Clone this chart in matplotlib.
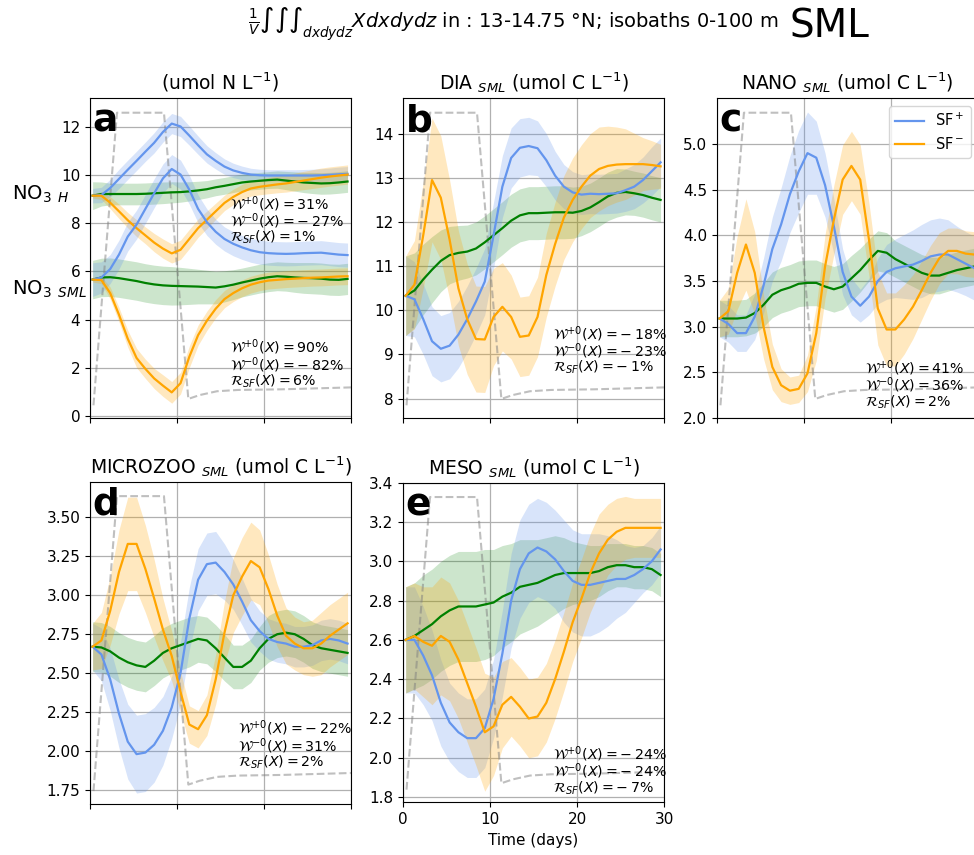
import numpy as np
import matplotlib
matplotlib.use("Agg")
import matplotlib.pyplot as plt
from matplotlib.transforms import blended_transform_factory

# time axis (days), one sample per day
days = np.linspace(0.3, 29.6, 30)

# dashed forcing envelope, y in axes fraction
forcing_t = [0.4, 3.1, 8.5, 11.3, 12.6, 14.6, 17.0, 22.0, 30.0]
forcing_y = [0.04, 0.955, 0.955, 0.06, 0.072, 0.084, 0.088, 0.09, 0.096]

# ---- panel a : NO3 (H and SML) ----
no3h_plus = [9.15, 9.18, 9.47, 9.85, 10.23, 10.6, 10.98, 11.35, 11.8, 12.15, 12.03, 11.65, 11.25, 10.87, 10.6,
             10.36, 10.2, 10.1, 10.03, 10.0, 9.99, 9.99, 9.99, 9.99, 9.99, 9.99, 10.0, 10.02, 10.04, 10.06]
no3h_minus = [9.15, 9.15, 8.86, 8.5, 8.13, 7.8, 7.5, 7.2, 6.95, 6.75, 6.9, 7.35, 7.8, 8.15, 8.5,
              8.85, 9.1, 9.3, 9.45, 9.52, 9.57, 9.62, 9.66, 9.72, 9.78, 9.84, 9.9, 9.95, 9.99, 10.03]
no3h_ref = [9.15, 9.22, 9.22, 9.22, 9.22, 9.22, 9.23, 9.25, 9.27, 9.29, 9.3, 9.33, 9.37, 9.42, 9.5,
            9.56, 9.63, 9.7, 9.74, 9.77, 9.8, 9.82, 9.78, 9.74, 9.7, 9.68, 9.66, 9.67, 9.7, 9.74]
no3h_plus_sd = [0.3, 0.32, 0.36, 0.4, 0.4, 0.4, 0.4, 0.42, 0.42, 0.42, 0.42, 0.4, 0.38, 0.36, 0.34,
                0.32, 0.3, 0.28, 0.26, 0.25, 0.24, 0.24, 0.24, 0.24, 0.25, 0.26, 0.27, 0.28, 0.3, 0.3]
no3h_minus_sd = [0.1, 0.15, 0.25, 0.3, 0.32, 0.35, 0.35, 0.38, 0.4, 0.4, 0.4, 0.4, 0.38, 0.36, 0.34,
                 0.32, 0.32, 0.32, 0.32, 0.33, 0.34, 0.35, 0.36, 0.37, 0.38, 0.39, 0.4, 0.4, 0.4, 0.4]
no3h_ref_sd = [0.58, 0.5, 0.45, 0.45, 0.45, 0.45, 0.45, 0.45, 0.45, 0.44, 0.42, 0.4, 0.38, 0.36, 0.35,
               0.35, 0.35, 0.35, 0.35, 0.35, 0.35, 0.36, 0.38, 0.4, 0.42, 0.44, 0.45, 0.45, 0.45, 0.45]

no3s_plus = [5.66, 5.75, 6.1, 6.7, 7.45, 7.95, 8.6, 9.25, 9.87, 10.26, 10.03, 9.4, 8.6, 8.05, 7.65,
             7.35, 7.15, 7.0, 6.88, 6.8, 6.76, 6.74, 6.73, 6.74, 6.76, 6.77, 6.78, 6.74, 6.7, 6.68]
no3s_minus = [5.66, 5.64, 5.1, 4.2, 3.2, 2.4, 1.95, 1.55, 1.25, 0.97, 1.35, 2.45, 3.35, 3.95, 4.45,
              4.85, 5.1, 5.3, 5.45, 5.55, 5.62, 5.65, 5.68, 5.7, 5.72, 5.74, 5.75, 5.77, 5.79, 5.8]
no3s_ref = [5.66, 5.75, 5.76, 5.72, 5.66, 5.6, 5.52, 5.46, 5.42, 5.4, 5.39, 5.38, 5.37, 5.35, 5.33,
            5.38, 5.45, 5.54, 5.62, 5.7, 5.76, 5.8, 5.78, 5.75, 5.73, 5.72, 5.7, 5.66, 5.65, 5.69]
no3s_plus_sd = [0.7, 0.65, 0.6, 0.6, 0.6, 0.6, 0.6, 0.6, 0.6, 0.6, 0.6, 0.6, 0.58, 0.55, 0.52,
                0.5, 0.5, 0.5, 0.5, 0.5, 0.5, 0.5, 0.5, 0.5, 0.5, 0.5, 0.5, 0.5, 0.5, 0.5]
no3s_minus_sd = [0.1, 0.15, 0.25, 0.3, 0.35, 0.4, 0.4, 0.42, 0.45, 0.45, 0.45, 0.45, 0.42, 0.4, 0.38,
                 0.36, 0.35, 0.35, 0.35, 0.35, 0.35, 0.35, 0.35, 0.35, 0.35, 0.35, 0.35, 0.35, 0.35, 0.35]
no3s_ref_sd = [0.8, 0.8, 0.8, 0.8, 0.8, 0.8, 0.8, 0.8, 0.8, 0.8, 0.78, 0.75, 0.72, 0.7, 0.68,
               0.65, 0.62, 0.6, 0.6, 0.6, 0.6, 0.6, 0.6, 0.62, 0.64, 0.65, 0.65, 0.65, 0.65, 0.65]

# ---- panel b : DIA ----
dia_plus = [10.33, 10.25, 9.8, 9.3, 9.13, 9.2, 9.45, 9.8, 10.2, 10.65, 11.7, 12.8, 13.45, 13.68, 13.72,
            13.67, 13.4, 13.05, 12.8, 12.67, 12.62, 12.64, 12.63, 12.64, 12.65, 12.72, 12.8, 12.95, 13.15, 13.35]
dia_minus = [10.33, 10.58, 11.7, 12.95, 12.55, 11.6, 10.5, 9.8, 9.35, 9.34, 9.85, 10.08, 9.85, 9.4, 9.43,
             9.85, 10.8, 11.5, 12.1, 12.5, 12.8, 13.05, 13.2, 13.27, 13.3, 13.31, 13.31, 13.31, 13.29, 13.26]
dia_ref = [10.33, 10.45, 10.7, 10.92, 11.12, 11.25, 11.3, 11.33, 11.4, 11.54, 11.7, 11.86, 12.03, 12.15, 12.2,
           12.2, 12.21, 12.22, 12.22, 12.21, 12.25, 12.33, 12.45, 12.58, 12.66, 12.68, 12.65, 12.61, 12.55, 12.5]
dia_plus_sd = [0.9, 0.85, 0.8, 0.78, 0.75, 0.75, 0.75, 0.75, 0.75, 0.75, 0.75, 0.7, 0.68, 0.66, 0.65,
               0.62, 0.6, 0.55, 0.5, 0.47, 0.45, 0.45, 0.45, 0.45, 0.45, 0.48, 0.5, 0.52, 0.55, 0.55]
dia_minus_sd = [0.9, 1.0, 1.2, 1.4, 1.4, 1.35, 1.3, 1.25, 1.2, 1.2, 1.1, 1.0, 0.95, 0.9, 0.9,
                0.9, 0.95, 0.95, 0.95, 0.95, 0.95, 0.95, 0.95, 0.9, 0.85, 0.8, 0.7, 0.6, 0.55, 0.5]
dia_ref_sd = [0.9, 0.85, 0.8, 0.75, 0.7, 0.65, 0.62, 0.6, 0.6, 0.6, 0.6, 0.6, 0.6, 0.6, 0.6,
              0.6, 0.6, 0.6, 0.6, 0.58, 0.56, 0.55, 0.55, 0.55, 0.55, 0.52, 0.5, 0.5, 0.5, 0.5]

# ---- panel c : NANO ----
nano_plus = [3.09, 3.03, 2.93, 2.93, 3.11, 3.45, 3.85, 4.12, 4.45, 4.7, 4.9, 4.85, 4.55, 4.1, 3.6,
             3.33, 3.23, 3.33, 3.5, 3.6, 3.64, 3.66, 3.68, 3.72, 3.77, 3.79, 3.79, 3.74, 3.69, 3.64]
nano_minus = [3.09, 3.17, 3.59, 3.9, 3.59, 3.0, 2.56, 2.36, 2.3, 2.32, 2.49, 2.93, 3.66, 4.17, 4.61,
              4.76, 4.61, 3.95, 3.2, 2.97, 2.97, 3.08, 3.22, 3.4, 3.59, 3.75, 3.83, 3.83, 3.8, 3.79]
nano_ref = [3.09, 3.09, 3.09, 3.1, 3.15, 3.24, 3.35, 3.4, 3.43, 3.47, 3.48, 3.48, 3.44, 3.41, 3.44,
            3.53, 3.62, 3.73, 3.83, 3.81, 3.74, 3.69, 3.64, 3.59, 3.56, 3.56, 3.59, 3.62, 3.64, 3.66]
nano_plus_sd = [0.2, 0.2, 0.2, 0.2, 0.25, 0.3, 0.35, 0.4, 0.42, 0.45, 0.45, 0.4, 0.35, 0.3, 0.25,
                0.2, 0.18, 0.2, 0.25, 0.3, 0.32, 0.35, 0.38, 0.4, 0.4, 0.4, 0.38, 0.36, 0.35, 0.35]
nano_minus_sd = [0.2, 0.25, 0.4, 0.5, 0.45, 0.35, 0.25, 0.18, 0.15, 0.15, 0.2, 0.3, 0.35, 0.38, 0.38,
                 0.38, 0.38, 0.4, 0.4, 0.4, 0.4, 0.38, 0.35, 0.32, 0.3, 0.28, 0.25, 0.25, 0.25, 0.25]
nano_ref_sd = [0.2, 0.2, 0.2, 0.2, 0.22, 0.24, 0.25, 0.25, 0.25, 0.25, 0.25, 0.25, 0.25, 0.25, 0.25,
               0.25, 0.24, 0.23, 0.22, 0.22, 0.2, 0.2, 0.2, 0.2, 0.2, 0.2, 0.2, 0.2, 0.2, 0.2]

# ---- panel d : MICROZOO ----
micro_plus = [2.67, 2.62, 2.46, 2.24, 2.06, 1.98, 1.99, 2.04, 2.13, 2.28, 2.5, 2.85, 3.1, 3.2, 3.21,
              3.15, 3.07, 2.96, 2.84, 2.77, 2.72, 2.7, 2.69, 2.67, 2.67, 2.68, 2.71, 2.72, 2.71, 2.69]
micro_minus = [2.67, 2.71, 2.9, 3.15, 3.33, 3.33, 3.17, 2.98, 2.78, 2.61, 2.38, 2.17, 2.14, 2.23, 2.46,
               2.76, 3.0, 3.12, 3.22, 3.18, 3.04, 2.87, 2.74, 2.69, 2.66, 2.66, 2.69, 2.74, 2.78, 2.82]
micro_ref = [2.67, 2.665, 2.64, 2.6, 2.57, 2.55, 2.54, 2.58, 2.63, 2.66, 2.68, 2.7, 2.72, 2.71, 2.66,
             2.6, 2.54, 2.54, 2.58, 2.66, 2.72, 2.75, 2.76, 2.75, 2.72, 2.68, 2.66, 2.65, 2.64, 2.63]
micro_plus_sd = [0.15, 0.17, 0.2, 0.22, 0.24, 0.25, 0.25, 0.24, 0.22, 0.2, 0.2, 0.2, 0.2, 0.2, 0.2,
                 0.18, 0.16, 0.15, 0.14, 0.13, 0.13, 0.13, 0.13, 0.13, 0.13, 0.13, 0.13, 0.13, 0.13, 0.13]
micro_minus_sd = [0.15, 0.18, 0.22, 0.27, 0.3, 0.3, 0.28, 0.25, 0.2, 0.16, 0.13, 0.12, 0.12, 0.13, 0.16,
                  0.2, 0.24, 0.25, 0.25, 0.24, 0.22, 0.2, 0.18, 0.17, 0.17, 0.18, 0.2, 0.2, 0.2, 0.2]
micro_ref_sd = [0.16, 0.16, 0.16, 0.16, 0.16, 0.16, 0.16, 0.16, 0.16, 0.16, 0.16, 0.16, 0.15, 0.15, 0.15,
                0.15, 0.14, 0.14, 0.14, 0.14, 0.15, 0.15, 0.15, 0.15, 0.15, 0.15, 0.15, 0.15, 0.15, 0.15]

# ---- panel e : MESO ----
meso_plus = [2.6, 2.6, 2.52, 2.42, 2.28, 2.18, 2.13, 2.1, 2.1, 2.15, 2.3, 2.53, 2.8, 2.96, 3.04,
             3.07, 3.05, 3.01, 2.95, 2.9, 2.88, 2.88, 2.89, 2.9, 2.91, 2.91, 2.93, 2.96, 3.0, 3.06]
meso_minus = [2.6, 2.62, 2.59, 2.57, 2.62, 2.59, 2.5, 2.38, 2.26, 2.13, 2.16, 2.27, 2.31, 2.26, 2.2,
              2.21, 2.28, 2.4, 2.54, 2.69, 2.81, 2.94, 3.04, 3.11, 3.15, 3.17, 3.17, 3.17, 3.17, 3.17]
meso_ref = [2.6, 2.62, 2.65, 2.68, 2.72, 2.75, 2.77, 2.77, 2.77, 2.78, 2.79, 2.82, 2.84, 2.87, 2.88,
            2.89, 2.91, 2.93, 2.94, 2.94, 2.94, 2.94, 2.95, 2.97, 2.98, 2.98, 2.97, 2.97, 2.96, 2.93]
meso_plus_sd = [0.27, 0.27, 0.25, 0.23, 0.22, 0.2, 0.2, 0.2, 0.2, 0.2, 0.2, 0.22, 0.24, 0.25, 0.25,
                0.25, 0.25, 0.25, 0.26, 0.26, 0.26, 0.26, 0.25, 0.23, 0.2, 0.17, 0.14, 0.12, 0.12, 0.12]
meso_minus_sd = [0.27, 0.27, 0.28, 0.3, 0.3, 0.3, 0.3, 0.3, 0.3, 0.3, 0.25, 0.22, 0.2, 0.2, 0.2,
                 0.2, 0.2, 0.2, 0.2, 0.2, 0.2, 0.2, 0.2, 0.18, 0.17, 0.16, 0.15, 0.15, 0.15, 0.15]
meso_ref_sd = [0.27, 0.27, 0.28, 0.28, 0.28, 0.28, 0.28, 0.28, 0.28, 0.28, 0.27, 0.26, 0.25, 0.24, 0.23,
               0.22, 0.21, 0.2, 0.18, 0.16, 0.15, 0.14, 0.13, 0.12, 0.11, 0.11, 0.11, 0.11, 0.11, 0.11]

# stats text (W+0, W-0, R_SF) in percent
stats_a_h = [31, -27, 1]
stats_a_s = [90, -82, 6]
stats_b = [-18, -23, -1]
stats_c = [41, 36, 2]
stats_d = [-22, 31, 2]
stats_e = [-24, -24, -7]

C_PLUS = 'cornflowerblue'
C_MINUS = 'orange'
C_REF = 'green'

plt.rcParams['xtick.labelsize'] = 11
plt.rcParams['ytick.labelsize'] = 11

fig = plt.figure(figsize=(9.74, 8.55), dpi=100)

W = 0.268
H_ = 0.374
pos = {
    'a': [0.0924, 0.511, W, H_],
    'b': [0.4138, 0.511, W, H_],
    'c': [0.7361, 0.511, W, H_],
    'd': [0.0924, 0.0597, W, H_ + 0.003],
    'e': [0.4138, 0.0615, W, H_],
}


def pc(v):
    return f"{v}\\%" if v >= 0 else f"-\\:{abs(v)}\\%"


def put_stats(ax, x, ymid, s):
    txt = (f"$\\mathcal{{W}}^{{+0}}(X) = {pc(s[0])}$\n"
           f"$\\mathcal{{W}}^{{-0}}(X) = {pc(s[1])}$\n"
           f"$\\mathcal{{R}}_{{SF}}(X) = {pc(s[2])}$")
    ax.text(x, ymid, txt, transform=ax.transAxes, fontsize=10.2,
            va='center', ha='left', linespacing=0.85)


def draw_series(ax, mean, sd, color, label=None, falpha=0.25):
    mean = np.array(mean)
    sd = np.array(sd)
    ax.fill_between(days, mean - sd, mean + sd, color=color, alpha=falpha, lw=0)
    ax.plot(days, mean, color=color, lw=1.6, label=label)


def setup(key, title, ylim, yticks, letter):
    ax = fig.add_axes(pos[key])
    ax.set_xlim(0, 30)
    ax.set_ylim(*ylim)
    ax.set_xticks([0, 10, 20, 30])
    ax.set_yticks(yticks)
    ax.grid(True, color='#b0b0b0', lw=0.9)
    ax.set_axisbelow(True)
    ax.set_title(title, fontsize=13.5)
    trans = blended_transform_factory(ax.transData, ax.transAxes)
    ax.plot(forcing_t, forcing_y, ls='--', color='grey', alpha=0.5, lw=1.5, transform=trans)
    ax.text(0.01, 0.985, letter, transform=ax.transAxes, fontsize=27,
            fontweight='bold', ha='left', va='top')
    return ax


# panel a
ax = setup('a', "(umol N L$^{-1}$)", (-0.1, 13.2), [0, 2, 4, 6, 8, 10, 12], 'a')
draw_series(ax, no3h_ref, no3h_ref_sd, C_REF, falpha=0.2)
draw_series(ax, no3h_plus, no3h_plus_sd, C_PLUS)
draw_series(ax, no3h_minus, no3h_minus_sd, C_MINUS)
draw_series(ax, no3s_ref, no3s_ref_sd, C_REF, falpha=0.2)
draw_series(ax, no3s_plus, no3s_plus_sd, C_PLUS)
draw_series(ax, no3s_minus, no3s_minus_sd, C_MINUS)
lab_tr = blended_transform_factory(ax.transAxes, ax.transData)
ax.text(-0.3, 9.0, "NO$_3$ $_{H}$", transform=lab_tr, fontsize=14, va='baseline', ha='left')
ax.text(-0.3, 5.03, "NO$_3$ $_{SML}$", transform=lab_tr, fontsize=14, va='baseline', ha='left')
put_stats(ax, 0.536, 0.619, stats_a_h)
put_stats(ax, 0.536, 0.169, stats_a_s)
ax.set_xticklabels([])

# panel b
ax = setup('b', "DIA $_{SML}$ (umol C L$^{-1}$)", (7.56, 14.8), [8, 9, 10, 11, 12, 13, 14], 'b')
draw_series(ax, dia_ref, dia_ref_sd, C_REF, falpha=0.2)
draw_series(ax, dia_plus, dia_plus_sd, C_PLUS)
draw_series(ax, dia_minus, dia_minus_sd, C_MINUS)
put_stats(ax, 0.575, 0.212, stats_b)
ax.set_xticklabels([])

# panel c
ax = setup('c', "NANO $_{SML}$ (umol C L$^{-1}$)", (2.0, 5.5), [2.0, 2.5, 3.0, 3.5, 4.0, 4.5, 5.0], 'c')
draw_series(ax, nano_ref, nano_ref_sd, C_REF, falpha=0.2)
draw_series(ax, nano_plus, nano_plus_sd, C_PLUS, label='SF$^+$')
draw_series(ax, nano_minus, nano_minus_sd, C_MINUS, label='SF$^-$')
put_stats(ax, 0.567, 0.105, stats_c)
ax.set_xticklabels([])
ax.set_yticklabels(['2.0', '2.5', '3.0', '3.5', '4.0', '4.5', '5.0'])
ax.legend(loc='upper right', fontsize=10.5)

# panel d
ax = setup('d', "MICROZOO $_{SML}$ (umol C L$^{-1}$)", (1.66, 3.73),
           [1.75, 2.0, 2.25, 2.5, 2.75, 3.0, 3.25, 3.5], 'd')
draw_series(ax, micro_ref, micro_ref_sd, C_REF, falpha=0.2)
draw_series(ax, micro_plus, micro_plus_sd, C_PLUS)
draw_series(ax, micro_minus, micro_minus_sd, C_MINUS)
put_stats(ax, 0.567, 0.183, stats_d)
ax.set_xticklabels([])
ax.set_yticklabels(['1.75', '2.00', '2.25', '2.50', '2.75', '3.00', '3.25', '3.50'])

# panel e
ax = setup('e', "MESO $_{SML}$ (umol C L$^{-1}$)", (1.773, 3.4),
           [1.8, 2.0, 2.2, 2.4, 2.6, 2.8, 3.0, 3.2, 3.4], 'e')
draw_series(ax, meso_ref, meso_ref_sd, C_REF, falpha=0.2)
draw_series(ax, meso_plus, meso_plus_sd, C_PLUS)
draw_series(ax, meso_minus, meso_minus_sd, C_MINUS)
put_stats(ax, 0.575, 0.1, stats_e)
ax.set_xlabel("Time (days)", fontsize=11)

# header
fig.text(778 / 974, 1 - 28 / 855,
         r"$\frac{1}{V}\int\int\int_{dxdydz}Xdxdydz$ in : 13-14.75 °N; isobaths 0-100 m",
         fontsize=14, ha='right', va='baseline')
fig.text(789 / 974, 1 - 37 / 855, "SML", fontsize=28, ha='left', va='baseline')

fig.savefig("out.png", dpi=100)
